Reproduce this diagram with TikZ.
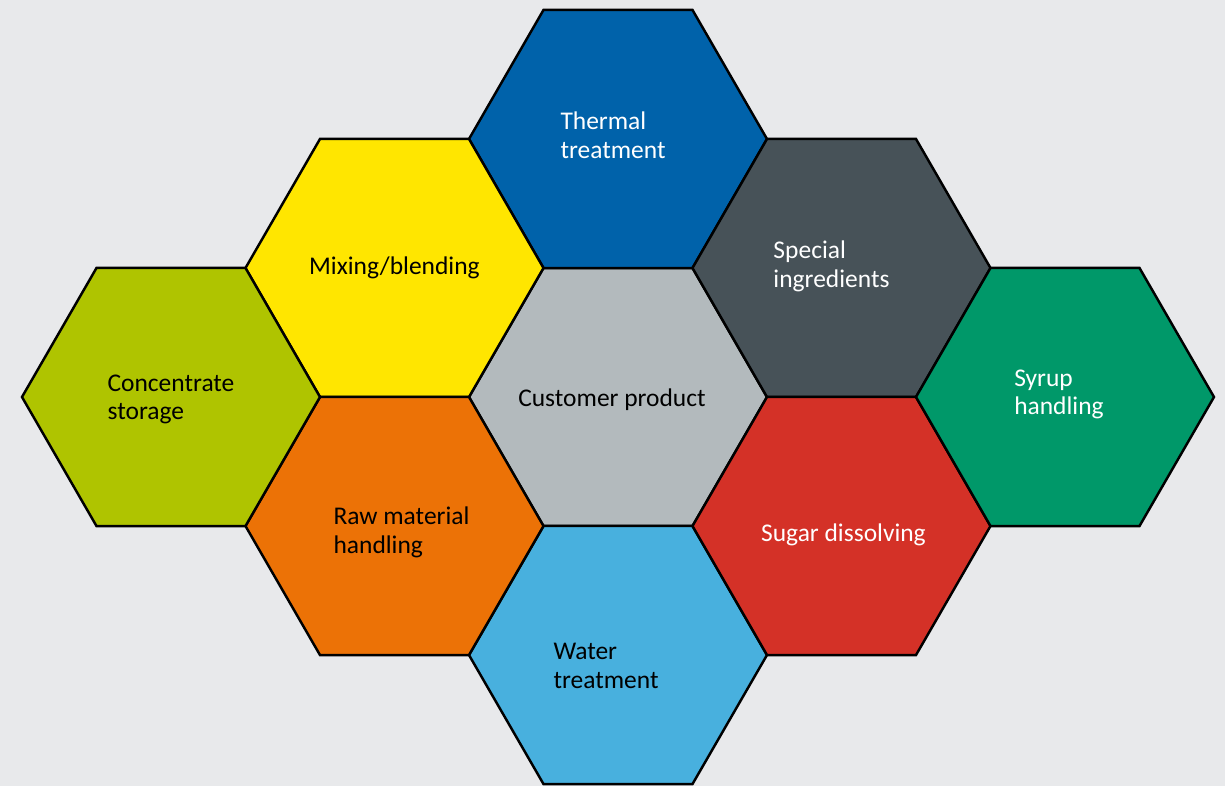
\documentclass[tikz,border=0pt]{standalone}
\usepackage{fontspec}
\setmainfont{Carlito}
\usetikzlibrary{shapes.geometric}

\definecolor{bgGrey}{RGB}{232,233,235}
\definecolor{thermalBlue}{RGB}{0,98,170}
\definecolor{mixYellow}{RGB}{255,230,0}
\definecolor{specialSlate}{RGB}{71,82,88}
\definecolor{concGreen}{RGB}{175,196,0}
\definecolor{custGrey}{RGB}{179,186,189}
\definecolor{syrupGreen}{RGB}{0,152,105}
\definecolor{rawOrange}{RGB}{236,114,6}
\definecolor{sugarRed}{RGB}{212,49,39}
\definecolor{waterBlue}{RGB}{72,176,222}

\tikzset{
    hexcell/.style={regular polygon, regular polygon sides=6, minimum size=5.96cm,
        draw=black, line width=1.4pt, inner sep=0pt, outer sep=0pt},
    hextext/.style={align=left, inner sep=0pt, yshift=-0.05cm, font=\fontsize{14.5}{16.4}\selectfont},
}

\begin{document}
\begin{tikzpicture}
    \fill[bgGrey] (-12.36,-7.78) rectangle (12.14,7.94);
    \useasboundingbox (-12.36,-7.78) rectangle (12.14,7.94);

    \coordinate (cust) at (0,0);
    \coordinate (therm) at (0,5.16);
    \coordinate (water) at (0,-5.16);
    \coordinate (mix) at (-4.47,2.58);
    \coordinate (raw) at (-4.47,-2.58);
    \coordinate (spec) at (4.47,2.58);
    \coordinate (sugar) at (4.47,-2.58);
    \coordinate (conc) at (-8.94,0);
    \coordinate (syrup) at (8.94,0);

    % cells
    \node[hexcell, fill=custGrey] (custHex) at (cust) {};
    \node[hexcell, fill=thermalBlue] (thermHex) at (therm) {};
    \node[hexcell, fill=waterBlue] (waterHex) at (water) {};
    \node[hexcell, fill=mixYellow] (mixHex) at (mix) {};
    \node[hexcell, fill=rawOrange] (rawHex) at (raw) {};
    \node[hexcell, fill=specialSlate] (specHex) at (spec) {};
    \node[hexcell, fill=sugarRed] (sugarHex) at (sugar) {};
    \node[hexcell, fill=concGreen] (concHex) at (conc) {};
    \node[hexcell, fill=syrupGreen] (syrupHex) at (syrup) {};

    % labels
    \node[hextext] (custText) at ([shift={(-0.12,0)}]cust) {Customer product};
    \node[hextext, text=white] (thermText) at ([shift={(-0.10,0.13)}]therm) {Thermal\\treatment};
    \node[hextext] (waterText) at ([shift={(-0.24,-0.16)}]water) {Water\\treatment};
    \node[hextext] (mixText) at ([shift={(0,0.06)}]mix) {Mixing/blending};
    \node[hextext] (rawText) at ([shift={(0.14,-0.08)}]raw) {Raw material\\handling};
    \node[hextext, text=white] (specText) at ([shift={(-0.20,0.08)}]spec) {Special\\ingredients};
    \node[hextext, text=white] (sugarText) at ([shift={(0.04,-0.12)}]sugar) {Sugar dissolving};
    \node[hextext] (concText) at (conc) {Concentrate\\storage};
    \node[hextext, text=white] (syrupText) at ([shift={(-0.12,0.10)}]syrup) {Syrup\\handling};

\end{tikzpicture}
\end{document}
